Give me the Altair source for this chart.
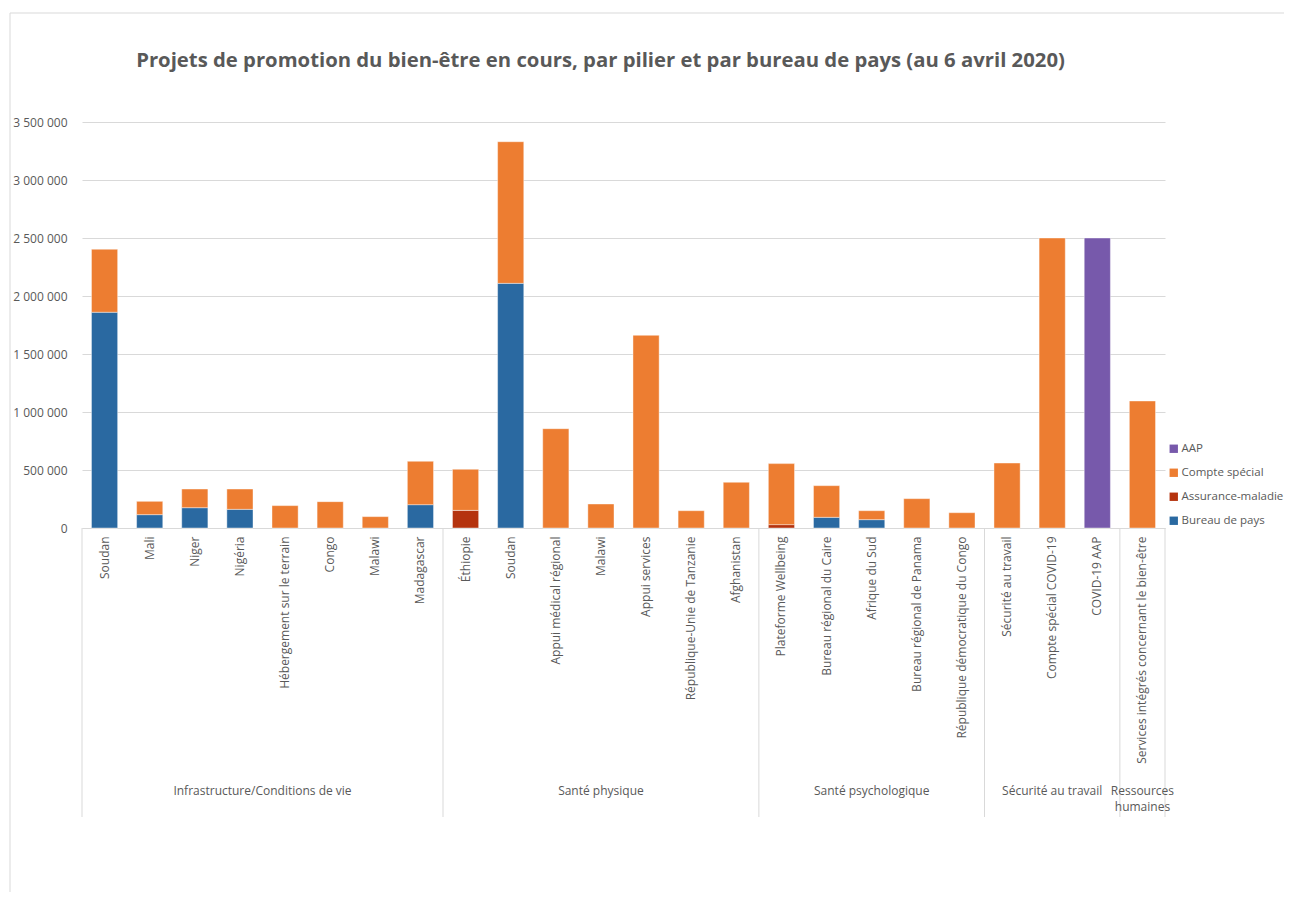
import json
import altair as alt
import pandas as pd

# ---- data ----
categories = [
    "Soudan", "Mali", "Niger", "Nigéria", "Hébergement sur le terrain", "Congo", "Malawi", "Madagascar",
    "Éthiopie", "Soudan", "Appui médical régional", "Malawi", "Appui services",
    "République-Unie de Tanzanie", "Afghanistan",
    "Plateforme Wellbeing", "Bureau régional du Caire", "Afrique du Sud",
    "Bureau régional de Panama", "République démocratique du Congo",
    "Sécurité au travail", "Compte spécial COVID-19", "COVID-19 AAP",
    "Services intégrés concernant le bien-être",
]
group_labels = [
    "Infrastructure/Conditions de vie", "Santé physique", "Santé psychologique",
    "Sécurité au travail", "Ressources\nhumaines",
]
group_sizes = [8, 7, 5, 3, 1]

bureau_de_pays = [1860000, 115000, 175000, 161000, 0, 0, 0, 201000,
                  0, 2109000, 0, 0, 0, 0, 0,
                  0, 92000, 72000, 0, 0,
                  0, 0, 0,
                  0]
assurance_maladie = [0, 0, 0, 0, 0, 0, 0, 0,
                     152000, 0, 0, 0, 0, 0, 0,
                     29000, 0, 0, 0, 0,
                     0, 0, 0,
                     0]
compte_special = [543000, 115000, 161000, 175000, 193000, 227000, 98000, 374000,
                  354000, 1221000, 856000, 207000, 1661000, 149000, 394000,
                  526000, 273000, 77000, 253000, 132000,
                  560000, 2500000, 0,
                  1095000]
aap = [0, 0, 0, 0, 0, 0, 0, 0,
       0, 0, 0, 0, 0, 0, 0,
       0, 0, 0, 0, 0,
       0, 0, 2500000,
       0]

series = ["AAP", "Compte spécial", "Assurance-maladie", "Bureau de pays"]
colors = ["#7759AB", "#ED7D31", "#B5330E", "#2A69A1"]
y_ticks = [0, 500000, 1000000, 1500000, 2000000, 2500000, 3000000, 3500000]
title_text = "Projets de promotion du bien-être en cours, par pilier et par bureau de pays (au 6 avril 2020)"

# ---- tables ----
stack_parts = [("Bureau de pays", bureau_de_pays), ("Assurance-maladie", assurance_maladie),
               ("Compte spécial", compte_special), ("AAP", aap)]
rows = []
for i, cat in enumerate(categories):
    for k, (name, vals) in enumerate(stack_parts):
        if vals[i] > 0:
            rows.append({"idx": i, "cat": cat, "serie": name, "value": vals[i], "ord": k})
df = pd.DataFrame(rows)

bounds = [0]
for s in group_sizes:
    bounds.append(bounds[-1] + s)
sep_df = pd.DataFrame({"b": bounds})
gl_df = pd.DataFrame({
    "center": [(bounds[j] + bounds[j + 1]) / 2 for j in range(len(group_sizes))],
    "label": group_labels,
})
n = len(categories)

W, H = 1083, 406
FONT = "Open Sans"
GREY = "#595959"
GRID = "#D9D9D9"

label_expr = json.dumps(categories, ensure_ascii=False) + "[datum.value]"

bars = alt.Chart(df).mark_bar(stroke="white", strokeWidth=0.6, strokeOpacity=0.7).encode(
    x=alt.X("idx:O",
            scale=alt.Scale(paddingInner=0.42, paddingOuter=0.21),
            axis=alt.Axis(title=None, labelAngle=-90, labelExpr=label_expr, labelFont=FONT,
                          labelFontSize=12, labelColor=GREY, ticks=False, domainColor=GRID,
                          labelPadding=8, labelLimit=400)),
    y=alt.Y("value:Q", stack="zero",
            scale=alt.Scale(domain=[0, 3500000], nice=False),
            axis=alt.Axis(title=None, values=y_ticks,
                          labelExpr="replace(format(datum.value, ','), /,/g, ' ')",
                          gridColor=GRID, domain=False, ticks=False, labelPadding=15,
                          labelFontSize=12, labelColor=GREY, labelFont=FONT)),
    color=alt.Color("serie:N",
                    scale=alt.Scale(domain=series, range=colors),
                    legend=alt.Legend(title=None, orient="none", legendX=1086, legendY=321,
                                      symbolType="square", symbolSize=70, symbolStrokeWidth=0,
                                      labelFontSize=11.5, labelColor=GREY, labelFont=FONT,
                                      labelOffset=2, rowPadding=11, labelLimit=300)),
    order=alt.Order("ord:Q", sort="ascending"),
)

seps = alt.Chart(sep_df).mark_rule(color=GRID, strokeWidth=1).encode(
    x=alt.X("b:Q", scale=alt.Scale(domain=[0, n], nice=False, zero=False), axis=None),
    y=alt.value(H),
    y2=alt.value(H + 289),
)

glabels = alt.Chart(gl_df).mark_text(
    font=FONT, fontSize=12, color=GREY, align="center", baseline="top",
    lineBreak="\n", lineHeight=16,
).encode(
    x=alt.X("center:Q", scale=alt.Scale(domain=[0, n], nice=False, zero=False), axis=None),
    y=alt.value(H + 258),
    text="label:N",
)

one = pd.DataFrame({"a": [0]})
frame_top = alt.Chart(one).mark_rule(color=GRID, strokeWidth=1).encode(
    x=alt.value(-72), x2=alt.value(W + 140), y=alt.value(-109))
frame_left = alt.Chart(one).mark_rule(color=GRID, strokeWidth=1).encode(
    x=alt.value(-72), y=alt.value(-109), y2=alt.value(H + 400))

chart = alt.layer(bars, seps, glabels, frame_top, frame_left).resolve_scale(
    x="independent"
).properties(
    width=W,
    height=H,
    autosize="none",
    padding={"left": 74, "top": 114, "right": 119, "bottom": 364},
    title=alt.TitleParams(title_text, font=FONT, fontSize=20.3, fontWeight="bold", color=GREY,
                          anchor="middle", frame="group", offset=-59, dx=-23),
).configure_view(stroke=None)

chart.save("out.html", embed_options={"renderer": "svg", "actions": False})
